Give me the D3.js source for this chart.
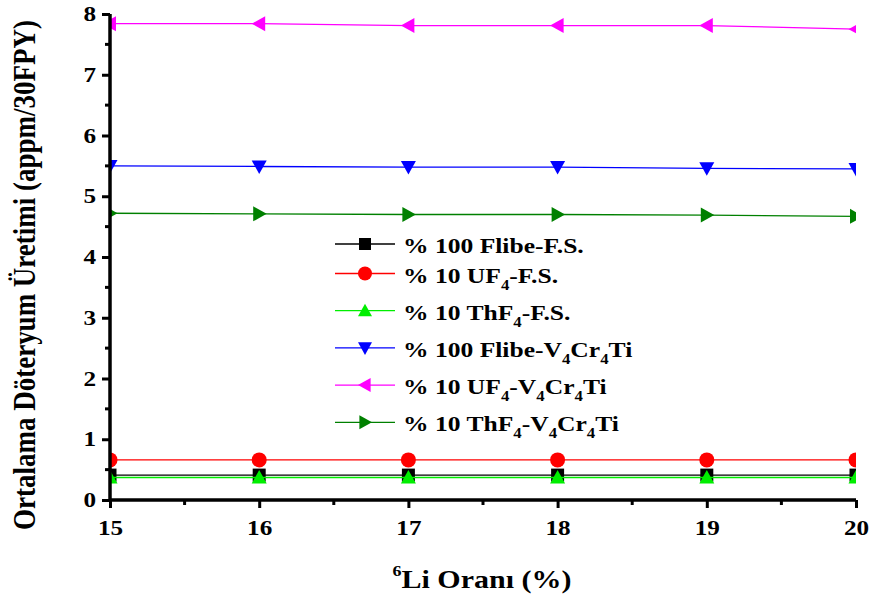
<!DOCTYPE html>
<html>
<head>
<meta charset="utf-8">
<script src="https://cdn.jsdelivr.net/npm/d3@7"></script>
<style>
  body { margin: 0; background: #fff; }
  svg { display: block; font-family: "Liberation Serif", "Times New Roman", serif; font-weight: bold; }
</style>
</head>
<body>
<div id="app"></div>
<script>
// x değerleri (6Li oranı, %)
const liRatio = [15, 16, 17, 18, 19, 20];

// seri değerleri (appm/30FPY)
const flibeFS = [0.41, 0.41, 0.41, 0.41, 0.41, 0.41];
const uf4FS = [0.66, 0.66, 0.66, 0.66, 0.66, 0.66];
const thf4FS = [0.37, 0.37, 0.37, 0.37, 0.37, 0.37];
const flibeV = [5.50, 5.49, 5.48, 5.48, 5.46, 5.45];
const uf4V = [7.84, 7.84, 7.81, 7.81, 7.81, 7.75];
const thf4V = [4.72, 4.71, 4.70, 4.70, 4.69, 4.67];

const yTicks = [0, 1, 2, 3, 4, 5, 6, 7, 8];

const series = [
  { name: ['% 100 Flibe-F.S.'], values: flibeFS, color: '#000000', symbol: 'square' },
  { name: ['% 10 UF', '4', '-F.S.'], values: uf4FS, color: '#ff0000', symbol: 'circle' },
  { name: ['% 10 ThF', '4', '-F.S.'], values: thf4FS, color: '#00ee00', symbol: 'up' },
  { name: ['% 100 Flibe-V', '4', 'Cr', '4', 'Ti'], values: flibeV, color: '#0000ff', symbol: 'down' },
  { name: ['% 10 UF', '4', '-V', '4', 'Cr', '4', 'Ti'], values: uf4V, color: '#ff00ff', symbol: 'left' },
  { name: ['% 10 ThF', '4', '-V', '4', 'Cr', '4', 'Ti'], values: thf4V, color: '#008000', symbol: 'right' }
];

const width = 872, height = 598;
const margin = { left: 110, right: 16, top: 14, bottom: 98 };
const stretch = 1.2; // yazılar yatayda biraz geniş

const svg = d3.select('#app').append('svg')
  .attr('width', width)
  .attr('height', height);

const x = d3.scaleLinear().domain([15, 20]).range([margin.left, width - margin.right]);
const y = d3.scaleLinear().domain([0, 8]).range([height - margin.bottom, margin.top]);

// çizim alanı kırpma
svg.append('clipPath').attr('id', 'plot')
  .append('rect')
  .attr('x', x(15)).attr('y', y(8) - 10)
  .attr('width', x(20) - x(15)).attr('height', y(0) - y(8) + 10);

function marker(sel, symbol, color, s) {
  if (symbol === 'square') {
    sel.append('rect').attr('x', -s / 2).attr('y', -s / 2).attr('width', s).attr('height', s).attr('fill', color);
  } else if (symbol === 'circle') {
    sel.append('circle').attr('r', s / 2 + 1).attr('fill', color);
  } else {
    const h = s / 2 + 1;
    let pts;
    if (symbol === 'up') pts = [[0, -h], [h, h * 0.8], [-h, h * 0.8]];
    if (symbol === 'down') pts = [[0, h], [h, -h * 0.8], [-h, -h * 0.8]];
    if (symbol === 'left') pts = [[-h, 0], [h * 0.8, -h], [h * 0.8, h]];
    if (symbol === 'right') pts = [[h, 0], [-h * 0.8, -h], [-h * 0.8, h]];
    sel.append('polygon').attr('points', pts.map(p => p.join(',')).join(' ')).attr('fill', color);
  }
}

const line = d3.line().x((d, i) => x(liRatio[i])).y(d => y(d));

const plot = svg.append('g').attr('clip-path', 'url(#plot)');

series.forEach(s => {
  plot.append('path')
    .attr('d', line(s.values))
    .attr('fill', 'none')
    .attr('stroke', s.color)
    .attr('stroke-width', 1.3);
  s.values.forEach((v, i) => {
    const g = plot.append('g').attr('transform', `translate(${x(liRatio[i])},${y(v)})`);
    marker(g, s.symbol, s.color, 13);
  });
});

// eksenler
const xAxis = svg.append('g').attr('transform', `translate(0,${y(0)})`)
  .call(d3.axisBottom(x).tickValues(liRatio).tickFormat(d3.format('d')).tickSize(8).tickPadding(12));
const yAxis = svg.append('g').attr('transform', `translate(${x(15)},0)`)
  .call(d3.axisLeft(y).tickValues(yTicks).tickSize(8).tickPadding(6));

// ara çizgiler
xAxis.selectAll('.minor').data(d3.range(15.5, 20, 1)).enter().append('line')
  .attr('x1', d => x(d)).attr('x2', d => x(d)).attr('y1', 0).attr('y2', 5)
  .attr('stroke', '#000').attr('stroke-width', 3);
yAxis.selectAll('.minor').data(d3.range(0.5, 8, 1)).enter().append('line')
  .attr('y1', d => y(d)).attr('y2', d => y(d)).attr('x1', 0).attr('x2', -5)
  .attr('stroke', '#000').attr('stroke-width', 3);

[xAxis, yAxis].forEach(a => {
  a.select('.domain').attr('stroke-width', 3.5);
  a.selectAll('.tick line').attr('stroke-width', 3);
  a.selectAll('text')
    .attr('font-family', '"Liberation Serif", serif')
    .attr('font-weight', 'bold')
    .attr('font-size', 21)
    .attr('fill', '#000')
    .attr('transform', `scale(${stretch},1)`);
});
yAxis.selectAll('.tick text').attr('x', -14 / stretch);
yAxis.select('.domain').attr('d', `M0,${y(0)}V${y(8)}`);
xAxis.select('.domain').attr('d', `M${x(15)},0H${x(20)}`);

// eksen başlıkları
svg.append('text')
  .attr('transform', `translate(35,${(y(0) + y(8)) / 2 + 18}) rotate(-90) scale(1,${stretch})`)
  .attr('text-anchor', 'middle')
  .attr('font-size', 27)
  .text('Ortalama Döteryum Üretimi (appm/30FPY)');

const xt = svg.append('text')
  .attr('transform', `translate(482,588) scale(${stretch},1)`)
  .attr('text-anchor', 'middle')
  .attr('font-size', 25);
xt.append('tspan').attr('font-size', 15).attr('dy', -12).text('6');
xt.append('tspan').attr('dy', 12).text('Li Oranı (%)');

// lejant
const legend = svg.append('g').attr('transform', 'translate(335,244)');
series.forEach((s, i) => {
  const row = legend.append('g').attr('transform', `translate(0,${i === 0 ? 0 : 29.5 + (i - 1) * 37.2})`);
  row.append('line').attr('x1', 0).attr('x2', 60).attr('stroke', s.color).attr('stroke-width', 1.3);
  marker(row.append('g').attr('transform', 'translate(30,0)'), s.symbol, s.color, 12);
  const t = row.append('text').attr('transform', `translate(68,9) scale(${stretch},1)`).attr('font-size', 21.3);
  s.name.forEach((part, k) => {
    if (k % 2 === 1) {
      t.append('tspan').attr('font-size', 14).attr('dy', 7).text(part);
    } else {
      t.append('tspan').attr('dy', k === 0 ? 0 : -7).text(part);
    }
  });
});
</script>
</body>
</html>
